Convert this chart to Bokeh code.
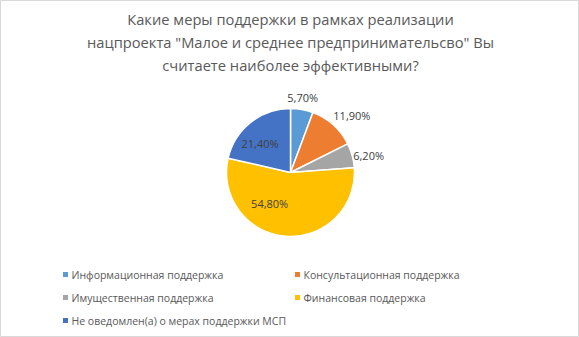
import math
from bokeh.plotting import figure
from bokeh.models import Range1d, ColumnDataSource
from bokeh.core.properties import value
from bokeh.embed import file_html
from bokeh.resources import INLINE

# ---- data ----
categories = [
    "Информационная поддержка",
    "Консультационная поддержка",
    "Имущественная поддержка",
    "Финансовая поддержка",
    "Не оведомлен(а) о мерах поддержки МСП",
]
shares = [5.7, 11.9, 6.2, 54.8, 21.4]
labels = ["5,70%", "11,90%", "6,20%", "54,80%", "21,40%"]
colors = ["#5B9BD5", "#ED7D31", "#A5A5A5", "#FFC000", "#4472C4"]
title_lines = [
    "Какие меры поддержки в рамках реализации",
    "нацпроекта \"Малое и среднее предпринимательсво\" Вы",
    "считаете наиболее эффективными?",
]

# ---- layout (screen-pixel based coordinates: x = X, y = -Y) ----
W, H = 579, 337
FONT = "Open Sans"
cx, cy, R = 290, -172, 64
# label placement: radius (px) and angle offset (deg) relative to slice mid-angle
label_r = [76, 84, 80, 37, 42]
label_dang = [1, -5, -3, -30, 8]

p = figure(width=W, height=H, output_backend="svg", toolbar_location=None,
           x_range=Range1d(0, W), y_range=Range1d(-H, 0),
           x_axis_type=None, y_axis_type=None, min_border=0)
p.grid.visible = False
p.outline_line_color = "#D9D9D9"
p.background_fill_color = "white"
p.border_fill_color = "white"

total = sum(shares)
starts, ends, mids = [], [], []
acc = 0.0
for s in shares:
    a0 = math.pi / 2 - 2 * math.pi * acc / total
    acc += s
    a1 = math.pi / 2 - 2 * math.pi * acc / total
    starts.append(a0)
    ends.append(a1)
    mids.append((a0 + a1) / 2)

src = ColumnDataSource(dict(start=starts, end=ends, color=colors, cat=categories))
p.wedge(x=cx, y=cy, radius=R, start_angle="start", end_angle="end",
        direction="clock", fill_color="color", line_color="white",
        line_width=1.5, source=src)

lx, ly = [], []
for m, r, d in zip(mids, label_r, label_dang):
    a = m + math.radians(d)
    lx.append(cx + r * math.cos(a))
    ly.append(cy + r * math.sin(a))
p.text(x=lx, y=ly, text=labels, text_font=value(FONT), text_font_size="11px",
       text_color="#404040", text_align="center", text_baseline="middle")

# title
for i, t in enumerate(title_lines):
    p.text(x=[290], y=[-(18 + 23 * i)], text=[t], text_font=value(FONT),
           text_font_size="14.7px", text_color="#595959",
           text_align="center", text_baseline="middle")

# legend (manual, 2 columns)
col_x = [65, 297]
row_y = [274, 297, 320]
mx, my, tx, ty = [], [], [], []
for i, c in enumerate(categories):
    col, row = i % 2, i // 2
    mx.append(col_x[col])
    my.append(-row_y[row])
    tx.append(col_x[col] + 6)
    ty.append(-row_y[row])
p.rect(x=mx, y=my, width=5, height=5, fill_color=colors, line_color=None)
p.text(x=tx, y=ty, text=categories, text_font=value(FONT), text_font_size="10.5px",
       text_color="#595959", text_align="left", text_baseline="middle")

open("out.html", "w").write(file_html(p, INLINE))
